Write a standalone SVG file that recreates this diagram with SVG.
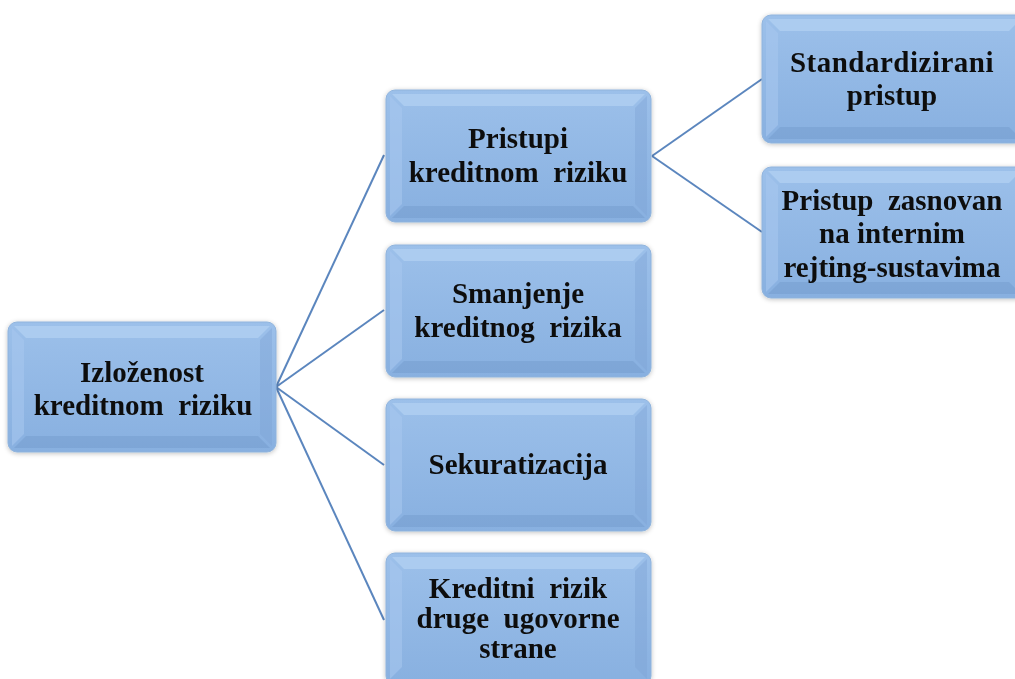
<svg xmlns="http://www.w3.org/2000/svg" width="1015" height="679" viewBox="0 0 1015 679">
<defs>
<linearGradient id="g" x1="0" y1="0" x2="0" y2="1">
<stop offset="0" stop-color="#9CC0EA"/>
<stop offset="1" stop-color="#88B0E0"/>
</linearGradient>
<filter id="sh" x="-10%" y="-10%" width="120%" height="120%">
<feGaussianBlur in="SourceAlpha" stdDeviation="2.5"/>
<feOffset dx="0" dy="1"/>
<feComponentTransfer><feFuncA type="linear" slope="0.25"/></feComponentTransfer>
<feMerge><feMergeNode/><feMergeNode in="SourceGraphic"/></feMerge>
</filter>
</defs>
<style>
.box{fill:url(#g);stroke:#8FB3DC;stroke-width:1}
.bt{fill:#B4D1F2;opacity:0.7}
.bl{fill:#A6C7EE;opacity:0.6}
.bb{fill:#6F97C9;opacity:0.4}
.br{fill:#7CA3D4;opacity:0.4}
.t{font-family:"Liberation Serif","Times New Roman",serif;font-weight:bold;font-size:29px;fill:#111;text-anchor:middle}
.c{stroke:#5B86BE;stroke-width:2;fill:none}
</style>
<g id="connectors">
<path class="c" d="M276,387 L384,155"/>
<path class="c" d="M276,387 L384,310"/>
<path class="c" d="M276,387 L384,465"/>
<path class="c" d="M276,387 L384,620"/>
<path class="c" d="M652,156 L762,79"/>
<path class="c" d="M652,156 L762,232"/>
</g>
<g id="n-root" filter="url(#sh)">
<rect class="box" x="8" y="322" width="268" height="130" rx="9"/>
<polygon class="bt" points="14,326 270,326 258,338 26,338"/>
<polygon class="bl" points="12,328 24,340 24,434 12,446"/>
<polygon class="bb" points="14,448 270,448 258,436 26,436"/>
<polygon class="br" points="272,328 260,340 260,434 272,446"/>
<text class="t" x="142" y="382">Izloženost</text>
<text class="t" x="143" y="415" xml:space="preserve">kreditnom  riziku</text>
</g>
<g id="n-pristupi" filter="url(#sh)">
<rect class="box" x="386" y="90" width="265" height="132" rx="9"/>
<polygon class="bt" points="392,94 645,94 633,106 404,106"/>
<polygon class="bl" points="390,96 402,108 402,204 390,216"/>
<polygon class="bb" points="392,218 645,218 633,206 404,206"/>
<polygon class="br" points="647,96 635,108 635,204 647,216"/>
<text class="t" x="518" y="148">Pristupi</text>
<text class="t" x="518" y="182" xml:space="preserve">kreditnom  riziku</text>
</g>
<g id="n-smanjenje" filter="url(#sh)">
<rect class="box" x="386" y="245" width="265" height="132" rx="9"/>
<polygon class="bt" points="392,249 645,249 633,261 404,261"/>
<polygon class="bl" points="390,251 402,263 402,359 390,371"/>
<polygon class="bb" points="392,373 645,373 633,361 404,361"/>
<polygon class="br" points="647,251 635,263 635,359 647,371"/>
<text class="t" x="518" y="303">Smanjenje</text>
<text class="t" x="518" y="337" xml:space="preserve">kreditnog  rizika</text>
</g>
<g id="n-sekuratizacija" filter="url(#sh)">
<rect class="box" x="386" y="399" width="265" height="132" rx="9"/>
<polygon class="bt" points="392,403 645,403 633,415 404,415"/>
<polygon class="bl" points="390,405 402,417 402,513 390,525"/>
<polygon class="bb" points="392,527 645,527 633,515 404,515"/>
<polygon class="br" points="647,405 635,417 635,513 647,525"/>
<text class="t" x="518" y="474">Sekuratizacija</text>
</g>
<g id="n-kreditni" filter="url(#sh)">
<rect class="box" x="386" y="553" width="265" height="132" rx="9"/>
<polygon class="bt" points="392,557 645,557 633,569 404,569"/>
<polygon class="bl" points="390,559 402,571 402,667 390,679"/>
<polygon class="br" points="647,559 635,571 635,667 647,679"/>
<text class="t" x="518" y="598" xml:space="preserve">Kreditni  rizik</text>
<text class="t" x="518" y="628" xml:space="preserve">druge  ugovorne</text>
<text class="t" x="518" y="658">strane</text>
</g>
<g id="n-standard" filter="url(#sh)">
<rect class="box" x="762" y="15" width="265" height="128" rx="9"/>
<polygon class="bt" points="768,19 1021,19 1009,31 780,31"/>
<polygon class="bl" points="766,21 778,33 778,125 766,137"/>
<polygon class="bb" points="768,139 1021,139 1009,127 780,127"/>
<text class="t" x="892" y="72" letter-spacing="0.5">Standardizirani</text>
<text class="t" x="892" y="105">pristup</text>
</g>
<g id="n-interni" filter="url(#sh)">
<rect class="box" x="762" y="167" width="265" height="131" rx="9"/>
<polygon class="bt" points="768,171 1021,171 1009,183 780,183"/>
<polygon class="bl" points="766,173 778,185 778,280 766,292"/>
<polygon class="bb" points="768,294 1021,294 1009,282 780,282"/>
<text class="t" x="892" y="210" xml:space="preserve">Pristup  zasnovan</text>
<text class="t" x="892" y="243">na internim</text>
<text class="t" x="892" y="277">rejting-sustavima</text>
</g>
</svg>
